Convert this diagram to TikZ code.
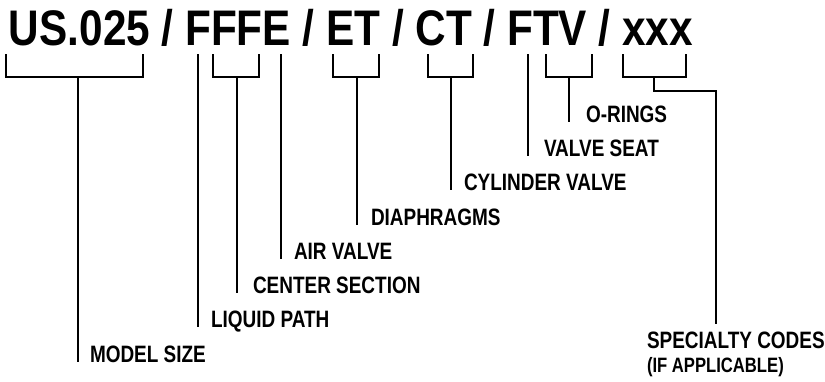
\documentclass[tikz,border=0pt]{standalone}
\usepackage{fontspec}
\newfontfamily\titlefont[FakeStretch=0.846]{Liberation Sans}
\newfontfamily\labelfont[FakeStretch=0.8]{Liberation Sans}
\usetikzlibrary{calc}

\begin{document}
\begin{tikzpicture}[x=1pt,y=-1pt,line width=2pt,
  lbl/.style={anchor=base west,inner sep=0pt,font=\labelfont\bfseries\fontsize{23.7}{24}\selectfont},
  small/.style={font=\labelfont\bfseries\fontsize{20.8}{21}\selectfont}]
\useasboundingbox (0,0) rectangle (825,381);
\node[anchor=base west,inner sep=0pt,font=\titlefont\bfseries\fontsize{50}{50}\selectfont] (code) at (8,45) {US.025 / FFFE / ET / CT / FTV / xxx};
% brackets under the code
\draw (6,54) |- (143,77) -- (143,54);
\draw (213,54) |- (259,77) -- (259,54);
\draw (333,54) |- (379,77) -- (379,54);
\draw (428,54) |- (473,77) -- (473,54);
\draw (546,54) |- (592,77) -- (592,54);
\draw (623,54) |- (686,77) -- (686,54);
% labels
\node[lbl] (size) at (89,362) {MODEL SIZE};
\node[lbl] (path) at (210,327) {LIQUID PATH};
\node[lbl] (center) at (252,293) {CENTER SECTION};
\node[lbl] (air) at (293,259) {AIR VALVE};
\node[lbl] (diaph) at (370,225) {DIAPHRAGMS};
\node[lbl] (cyl) at (463,190) {CYLINDER VALVE};
\node[lbl] (seat) at (543,156) {VALVE SEAT};
\node[lbl] (oring) at (585,122) {O-RINGS};
\node[lbl] (spec) at (646,348) {SPECIALTY CODES};
\node[lbl,small] (appl) at (646,372) {(IF APPLICABLE)};
% stems
\coordinate (S1) at (78,77);
\coordinate (S2) at (198,54);
\coordinate (S3) at (237,77);
\coordinate (S4) at (281,54);
\coordinate (S5) at (357,77);
\coordinate (S6) at (451,77);
\coordinate (S7) at (528,54);
\coordinate (S8) at (569,77);
\coordinate (S9) at (654,77);
\coordinate (E9) at (716,324);
\draw (S1) -- (S1 |- size.base);
\draw (S2) -- (S2 |- path.base);
\draw (S3) -- (S3 |- center.base);
\draw (S4) -- (S4 |- air.base);
\draw (S5) -- (S5 |- diaph.base);
\draw (S6) -- (S6 |- cyl.base);
\draw (S7) -- (S7 |- seat.base);
\draw (S8) -- (S8 |- oring.base);
\draw (S9) -- ++(0,14) -| (E9);
\end{tikzpicture}
\end{document}
